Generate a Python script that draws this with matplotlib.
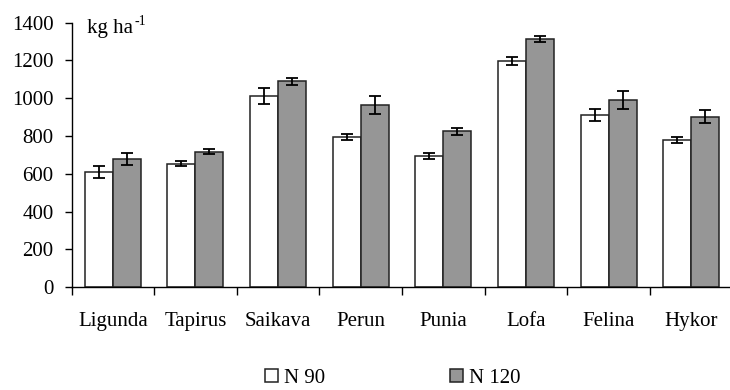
import matplotlib.pyplot as plt
import numpy as np

plt.rcParams['font.family'] = ['Liberation Serif', 'DejaVu Serif']

cultivars = ['Ligunda', 'Tapirus', 'Saikava', 'Perun', 'Punia', 'Lofa', 'Felina', 'Hykor']
n90 = [610, 654, 1012, 797, 696, 1197, 912, 779]
n90_err = [32, 12, 43, 16, 16, 20, 32, 17]
n120 = [679, 717, 1090, 965, 825, 1312, 989, 903]
n120_err = [32, 14, 20, 48, 20, 16, 48, 33]
yticks = [0, 200, 400, 600, 800, 1000, 1200, 1400]

fig = plt.figure(figsize=(7.3, 3.9), dpi=100)
ax = fig.add_axes([71.5 / 730, 102.7 / 390, 661 / 730, 264.6 / 390])

x = np.arange(len(cultivars))
w = 0.339
err_kw = dict(ecolor='black', elinewidth=1.3, capsize=4.3, capthick=1.3)
ax.bar(x - w / 2, n90, w, yerr=n90_err, color='white', edgecolor='#222222',
       linewidth=1.1, error_kw=err_kw, label='N 90')
ax.bar(x + w / 2, n120, w, yerr=n120_err, color='#969696', edgecolor='#222222',
       linewidth=1.1, error_kw=err_kw, label='N 120')

ax.set_xlim(-0.5, len(cultivars) - 0.5)
ax.set_ylim(0, 1400)
ax.set_yticks(yticks)
ax.set_xticks(x)
ax.set_xticklabels(cultivars)
# ticks sit between the groups, labels under the group centres
ax.set_xticks(np.arange(len(cultivars) + 1) - 0.5, minor=True)
ax.tick_params(axis='x', which='major', length=0, pad=18, labelsize=15)
ax.tick_params(axis='x', which='minor', length=6, width=1, direction='out')
ax.tick_params(axis='y', length=5, width=1, direction='out', pad=8, labelsize=15)

for s in ['top', 'right']:
    ax.spines[s].set_visible(False)
for s in ['left', 'bottom']:
    ax.spines[s].set_linewidth(1)

ax.text(0.0235, 0.961, 'kg ha', transform=ax.transAxes,
        fontsize=15, va='baseline', ha='left')
ax.text(0.095, 0.99, '-1', transform=ax.transAxes,
        fontsize=10, va='baseline', ha='left')

fig.legend(loc='center', bbox_to_anchor=(0.538, 0.03), ncol=2, frameon=False,
           fontsize=15, handlelength=0.62, handleheight=0.62, handletextpad=0.3,
           columnspacing=6.0)

fig.savefig('out.png', dpi=100)
